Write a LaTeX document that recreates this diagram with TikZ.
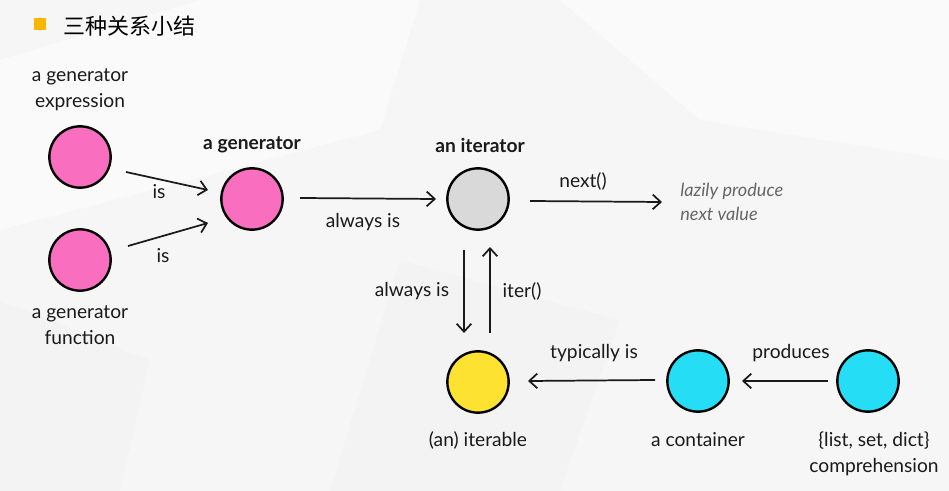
\documentclass[tikz,border=0pt]{standalone}
\usepackage{fontspec}
\setmainfont{Lato}
\newfontfamily\cjk{Noto Sans CJK SC}
\usetikzlibrary{arrows.meta}
\definecolor{pinkc}{HTML}{FA6EC0}
\definecolor{grayc}{HTML}{D9D9D9}
\definecolor{yellowc}{HTML}{FDE231}
\definecolor{cyanc}{HTML}{25DDF4}
\definecolor{bgc}{HTML}{F6F6F6}
\definecolor{titley}{HTML}{F7B800}
\definecolor{txt}{HTML}{1A1A1A}
\definecolor{lazy}{HTML}{666666}
\tikzset{
  ball/.style={circle, draw=black, line width=1.8pt, minimum size=46pt, inner sep=0pt},
  lbl/.style={font=\fontsize{14.4pt}{16pt}\selectfont, text=txt, inner sep=0pt, align=center},
  blbl/.style={lbl, font=\fontsize{14.4pt}{16pt}\selectfont\bfseries},
  conn/.style={line width=1.3pt, draw=txt, -{Straight Barb[length=6pt,width=11pt,line width=1.3pt]}},
}
\begin{document}
\begin{tikzpicture}[x=0.75pt,y=-0.75pt]
\fill[bgc] (0,0) rectangle (949,491);
\useasboundingbox (0,0) rectangle (949,491);
% faint facets
\fill[white,opacity=0.5] (0,60) -- (200,0) -- (420,0) -- (380,130) -- (0,230) -- cycle;
\fill[white,opacity=0.5] (560,0) -- (949,0) -- (949,160) -- (700,120) -- cycle;
\fill[black,opacity=0.012] (400,260) -- (620,320) -- (560,491) -- (330,491) -- cycle;
\fill[black,opacity=0.012] (0,300) -- (150,360) -- (120,491) -- (0,491) -- cycle;
% title
\node[fill=titley, minimum size=9pt, inner sep=0pt] (sq) at (40,24) {};
\node[anchor=west, inner sep=0pt, font=\cjk\fontsize{16.5pt}{18pt}\selectfont, text=black] (title) at (63,26) {三种关系小结};
% balls
\node[ball, fill=pinkc] (expr) at (80,157) {};
\node[ball, fill=pinkc] (func) at (80,260) {};
\node[ball, fill=pinkc] (gen) at (252,199) {};
\node[ball, fill=grayc] (iter) at (478,199) {};
\node[ball, fill=yellowc] (itb) at (478,382) {};
\node[ball, fill=cyanc] (cont) at (698,381) {};
\node[ball, fill=cyanc] (comp) at (868,381) {};
% labels
\node[lbl] (exprl) at (80,90) {a generator\\[3.5pt]expression};
\node[lbl] (funcl) at (80,325) {a generator\\[3.5pt]function};
\node[blbl] (genl) at (252,145) {a generator};
\node[blbl] (iterl) at (480,145) {an iterator};
\node[lbl] (itbl) at (478,440) {(an) iterable};
\node[lbl] (contl) at (698,440) {a container};
\node[lbl] (compl) at (874,454) {\{list, set, dict\}\\[3.5pt]comprehension};
\node[lbl, anchor=west, align=left, text=lazy, font=\fontsize{13.6pt}{15pt}\selectfont\itshape] (lazyl) at (680,202) {lazily produce\\[3pt]next value};
% connector endpoints
\coordinate (a1) at (126,172); \coordinate (a2) at (208,190);
\coordinate (b1) at (128,246); \coordinate (b2) at (208,223);
\coordinate (c1) at (300,198); \coordinate (c2) at (436,199);
\coordinate (d1) at (530,201); \coordinate (d2) at (662,202);
\coordinate (e1) at (464,250); \coordinate (e2) at (464,333);
\coordinate (f1) at (490,333); \coordinate (f2) at (490,247);
\coordinate (g1) at (655,380); \coordinate (g2) at (528,381);
\coordinate (h1) at (828,381); \coordinate (h2) at (742,381);
\draw[conn] (a1) -- (a2);
\draw[conn] (b1) -- (b2);
\draw[conn] (c1) -- (c2);
\draw[conn] (d1) -- (d2);
\draw[conn] (e1) -- (e2);
\draw[conn] (f1) -- (f2);
\draw[conn] (g1) -- (g2);
\draw[conn] (h1) -- (h2);
% connector labels
\node[lbl] (l1) at (159,192) {is};
\node[lbl] (l2) at (163,256) {is};
\node[lbl] (l3) at (363,222) {always is};
\node[lbl] (l4) at (583,181) {next()};
\node[lbl] (l5) at (412,291) {always is};
\node[lbl] (l6) at (522,291) {iter()};
\node[lbl] (l7) at (594,353) {typically is};
\node[lbl] (l8) at (791,353) {produces};
\end{tikzpicture}
\end{document}
